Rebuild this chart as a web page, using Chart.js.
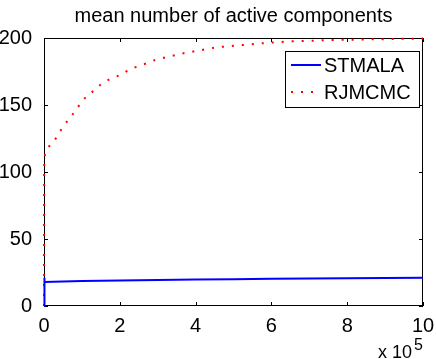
<!DOCTYPE html>
<html>
<head>
<meta charset="utf-8">
<script src="https://cdn.jsdelivr.net/npm/chart.js@4/dist/chart.umd.min.js"></script>
<style>
  html, body { margin: 0; padding: 0; background: #fff; }
  #wrap { width: 436px; height: 359px; }
</style>
</head>
<body>
<div id="wrap"><canvas id="chart"></canvas></div>
<script>
const chartTitle = 'mean number of active components';
const xTicks = [0, 2, 4, 6, 8, 10];
const yTicks = [0, 50, 100, 150, 200];
const seriesNames = ['STMALA', 'RJMCMC'];
const xExponent = '5';

// iterations in units of 10^5
const stmalaX = [0, 0.004, 0.02, 0.5, 1, 2, 3, 4, 5, 6, 7, 8, 9, 10];
const stmalaY = [0, 21, 17.9, 18.3, 18.6, 19.0, 19.4, 19.8, 20.0, 20.3, 20.5, 20.7, 20.9, 21.1];

const rjmcmcX = [0, 0.004, 0.012, 0.03, 0.11, 0.2, 0.31, 0.48, 0.67, 0.84, 1.03, 1.21, 1.39, 1.58,
                 1.78, 1.98, 2.17, 2.39, 2.6, 2.97, 3.66, 4.54, 5.33, 5.95, 6.55, 7.6, 8.66, 9.68, 10];
const rjmcmcY = [0, 104, 110, 114, 118, 122, 125, 133, 140, 146, 154, 158, 163, 167,
                 170, 172, 175, 178, 180, 184, 188.5, 193, 195, 196.5, 197.5, 198.5, 199, 199.5, 199.6];

const FONT = 'Liberation Sans, Arial, Helvetica, sans-serif';

const toPoints = (xs, ys) => xs.map((x, i) => ({ x: x, y: ys[i] }));

// MATLAB-like box with inward ticks (under the lines), then legend, title, exponent
const matlabDecor = {
    id: 'matlabDecor',
    beforeDatasetsDraw(chart) {
        const ctx = chart.ctx;
        const a = chart.chartArea;
        const xs = chart.scales.x;
        const ys = chart.scales.y;
        ctx.save();
        ctx.strokeStyle = '#000';
        ctx.lineWidth = 1;
        ctx.strokeRect(a.left + 0.5, a.top + 0.5, a.right - a.left - 1, a.bottom - a.top - 1);

        const tl = 4;
        ctx.beginPath();
        xTicks.forEach(v => {
            const px = Math.round(xs.getPixelForValue(v)) + 0.5;
            ctx.moveTo(px, a.bottom);
            ctx.lineTo(px, a.bottom - tl);
            ctx.moveTo(px, a.top);
            ctx.lineTo(px, a.top + tl);
        });
        yTicks.forEach(v => {
            const py = Math.round(ys.getPixelForValue(v)) + 0.5;
            ctx.moveTo(a.left, py);
            ctx.lineTo(a.left + tl, py);
            ctx.moveTo(a.right, py);
            ctx.lineTo(a.right - tl, py);
        });
        ctx.stroke();
        ctx.restore();
    },
    afterDatasetsDraw(chart) {
        const ctx = chart.ctx;
        const a = chart.chartArea;
        ctx.save();

        // legend
        const bx = 285, by = 51, bw = 134, bh = 56;
        ctx.fillStyle = '#fff';
        ctx.fillRect(bx, by, bw, bh);
        ctx.strokeStyle = '#000';
        ctx.lineWidth = 1;
        ctx.strokeRect(bx + 0.5, by + 0.5, bw, bh);
        ctx.font = '20px ' + FONT;
        ctx.textBaseline = 'middle';
        ctx.textAlign = 'left';
        chart.data.datasets.forEach((ds, i) => {
            const ly = by + 14 + i * 27;
            ctx.beginPath();
            ctx.strokeStyle = ds.borderColor;
            ctx.lineWidth = ds.borderWidth;
            ctx.setLineDash(ds.borderDash || []);
            ctx.moveTo(bx + 6, ly);
            ctx.lineTo(bx + 36, ly);
            ctx.stroke();
            ctx.setLineDash([]);
            ctx.fillStyle = '#000';
            ctx.fillText(ds.label, bx + 39, ly + 1);
        });

        // title
        ctx.textAlign = 'center';
        ctx.textBaseline = 'alphabetic';
        ctx.font = '20px ' + FONT;
        ctx.fillText(chartTitle, (a.left + a.right) / 2, 22);

        // x 10^5
        ctx.textAlign = 'left';
        ctx.font = '18px ' + FONT;
        ctx.fillText('x 10', 378, 358);
        ctx.font = '16px ' + FONT;
        ctx.fillText(xExponent, 414, 350);

        ctx.restore();
    }
};

new Chart(document.getElementById('chart'), {
    type: 'line',
    data: {
        datasets: [
            {
                label: seriesNames[0],
                data: toPoints(stmalaX, stmalaY),
                borderColor: '#0000ff',
                borderWidth: 2,
                pointRadius: 0,
                tension: 0,
                clip: 3,
            },
            {
                label: seriesNames[1],
                data: toPoints(rjmcmcX, rjmcmcY),
                borderColor: '#ff0000',
                borderWidth: 2,
                borderDash: [2, 8],
                pointRadius: 0,
                tension: 0,
                clip: 3,
            },
        ],
    },
    options: {
        responsive: true,
        maintainAspectRatio: false,
        animation: false,
        layout: { padding: { top: 38, right: 13, left: 0, bottom: 0 } },
        plugins: {
            legend: { display: false },
            title: { display: false },
            tooltip: { enabled: false },
        },
        scales: {
            x: {
                type: 'linear',
                min: 0,
                max: 10,
                afterBuildTicks: s => { s.ticks = xTicks.map(v => ({ value: v })); },
                afterFit: s => { s.height = 53; },
                grid: { display: false },
                border: { display: false },
                ticks: { color: '#000', font: { family: FONT, size: 20 }, padding: 0, maxRotation: 0 },
            },
            y: {
                min: 0,
                max: 200,
                afterBuildTicks: s => { s.ticks = yTicks.map(v => ({ value: v })); },
                afterFit: s => { s.width = 44; },
                grid: { display: false },
                border: { display: false },
                ticks: { color: '#000', font: { family: FONT, size: 20 }, padding: 4 },
            },
        },
    },
    plugins: [matlabDecor],
});
</script>
</body>
</html>
